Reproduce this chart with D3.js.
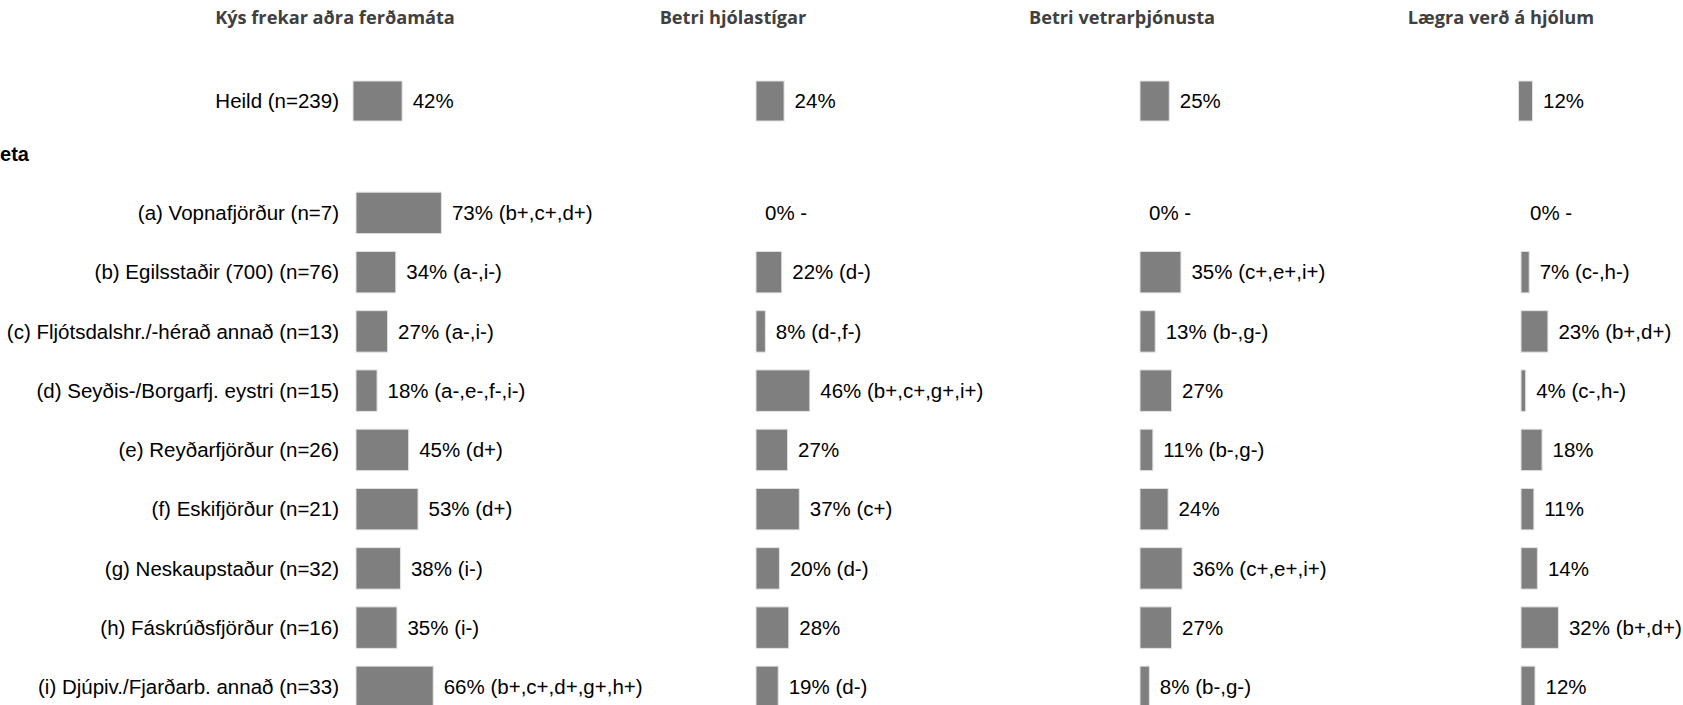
<!DOCTYPE html>
<html>
<head>
<meta charset="utf-8">
<script src="https://cdn.jsdelivr.net/npm/d3@7"></script>
<style>
  body { margin: 0; background: #fff; }
  svg { display: block; font-family: "Liberation Sans", Arial, sans-serif; }
</style>
</head>
<body>
<svg id="chart" width="1683" height="705"></svg>
<script>
/* data */
var titles = ["Kýs frekar aðra ferðamáta", "Betri hjólastígar", "Betri vetrarþjónusta", "Lægra verð á hjólum"];
var totalLabel = "Heild (n=239)";
var totals = [42, 24, 25, 12];
var groupTitle = "Búseta";
var regions = [
  "(a) Vopnafjörður (n=7)",
  "(b) Egilsstaðir (700) (n=76)",
  "(c) Fljótsdalshr./-hérað annað (n=13)",
  "(d) Seyðis-/Borgarfj. eystri (n=15)",
  "(e) Reyðarfjörður (n=26)",
  "(f) Eskifjörður (n=21)",
  "(g) Neskaupstaður (n=32)",
  "(h) Fáskrúðsfjörður (n=16)",
  "(i) Djúpiv./Fjarðarb. annað (n=33)"
];
var valsAdra = [73, 34, 27, 18, 45, 53, 38, 35, 66];
var valsStigar = [0, 22, 8, 46, 27, 37, 20, 28, 19];
var valsVetur = [0, 35, 13, 27, 11, 24, 36, 27, 8];
var valsVerd = [0, 7, 23, 4, 18, 11, 14, 32, 12];
var sigAdra = ["(b+,c+,d+)", "(a-,i-)", "(a-,i-)", "(a-,e-,f-,i-)", "(d+)", "(d+)", "(i-)", "(i-)", "(b+,c+,d+,g+,h+)"];
var sigStigar = ["-", "(d-)", "(d-,f-)", "(b+,c+,g+,i+)", "", "(c+)", "(d-)", "", "(d-)"];
var sigVetur = ["-", "(c+,e+,i+)", "(b-,g-)", "", "(b-,g-)", "", "(c+,e+,i+)", "", "(b-,g-)"];
var sigVerd = ["-", "(c-,h-)", "(b+,d+)", "(c-,h-)", "", "", "", "(b+,d+)", ""];

var values = [valsAdra, valsStigar, valsVetur, valsVerd];
var sigs = [sigAdra, sigStigar, sigVetur, sigVerd];

/* layout */
var panelX = [356, 756, 1140, 1521];
var totalShift = [-3, 0, 0, -2.5];
var titleX = [335, 733, 1122, 1501];
var labelRight = 339;
var barColor = "#7f7f7f";
var fs = "20.5px";

var svg = d3.select("#chart");

var x = d3.scaleLinear().domain([0, 100]).range([0, 117]);
var y = d3.scaleBand().domain(regions).range([183.3, 716.5]).paddingInner(0.3).paddingOuter(0.15);
var totalY = 101, totalH = 40;

// column titles
svg.selectAll("text.title").data(titles).enter().append("text")
    .attr("class", "title")
    .attr("x", function(d, i) { return titleX[i]; })
    .attr("y", 24)
    .attr("text-anchor", "middle")
    .style("font-family", "'Open Sans', sans-serif")
    .style("font-weight", "bold")
    .style("font-size", "18.2px")
    .style("fill", "#404040")
    .text(function(d) { return d; });

// group heading, cut off at the left edge like in the source
svg.append("text")
    .attr("x", 29).attr("y", 161)
    .attr("text-anchor", "end")
    .style("font-weight", "bold")
    .style("font-size", "20px")
    .text(groupTitle);

// row labels
svg.append("text")
    .attr("x", labelRight).attr("y", totalY).attr("dy", "0.35em")
    .attr("text-anchor", "end")
    .style("font-size", fs)
    .text(totalLabel);

svg.selectAll("text.row").data(regions).enter().append("text")
    .attr("class", "row")
    .attr("x", labelRight)
    .attr("y", function(d) { return y(d) + y.bandwidth() / 2; })
    .attr("dy", "0.35em")
    .attr("text-anchor", "end")
    .style("font-size", fs)
    .text(function(d) { return d; });

// panels
titles.forEach(function(t, p) {
  var g = svg.append("g").attr("transform", "translate(" + panelX[p] + ",0)");

  // total row
  var t0 = totalShift[p];
  g.append("rect")
      .attr("x", t0).attr("y", totalY - totalH / 2)
      .attr("width", x(totals[p])).attr("height", totalH)
      .attr("fill", barColor).attr("stroke", "#e3e3e3").attr("stroke-width", 1);
  g.append("text")
      .attr("x", t0 + x(totals[p]) + 10.5).attr("y", totalY).attr("dy", "0.35em")
      .style("font-size", fs)
      .text(totals[p] + "%");

  var rows = regions.map(function(r, i) {
    return { region: r, value: values[p][i], sig: sigs[p][i] };
  });

  g.selectAll("rect.bar").data(rows.filter(function(d) { return d.value > 0; })).enter().append("rect")
      .attr("class", "bar")
      .attr("x", 0)
      .attr("y", function(d) { return y(d.region); })
      .attr("width", function(d) { return x(d.value); })
      .attr("height", y.bandwidth())
      .attr("fill", barColor).attr("stroke", "#e3e3e3").attr("stroke-width", 1);

  g.selectAll("text.val").data(rows).enter().append("text")
      .attr("class", "val")
      .attr("x", function(d) { return x(d.value) + (d.value > 0 ? 10.5 : 9); })
      .attr("y", function(d) { return y(d.region) + y.bandwidth() / 2; })
      .attr("dy", "0.35em")
      .style("font-size", fs)
      .text(function(d) { return d.value + "%" + (d.sig ? " " + d.sig : ""); });
});
</script>
</body>
</html>
